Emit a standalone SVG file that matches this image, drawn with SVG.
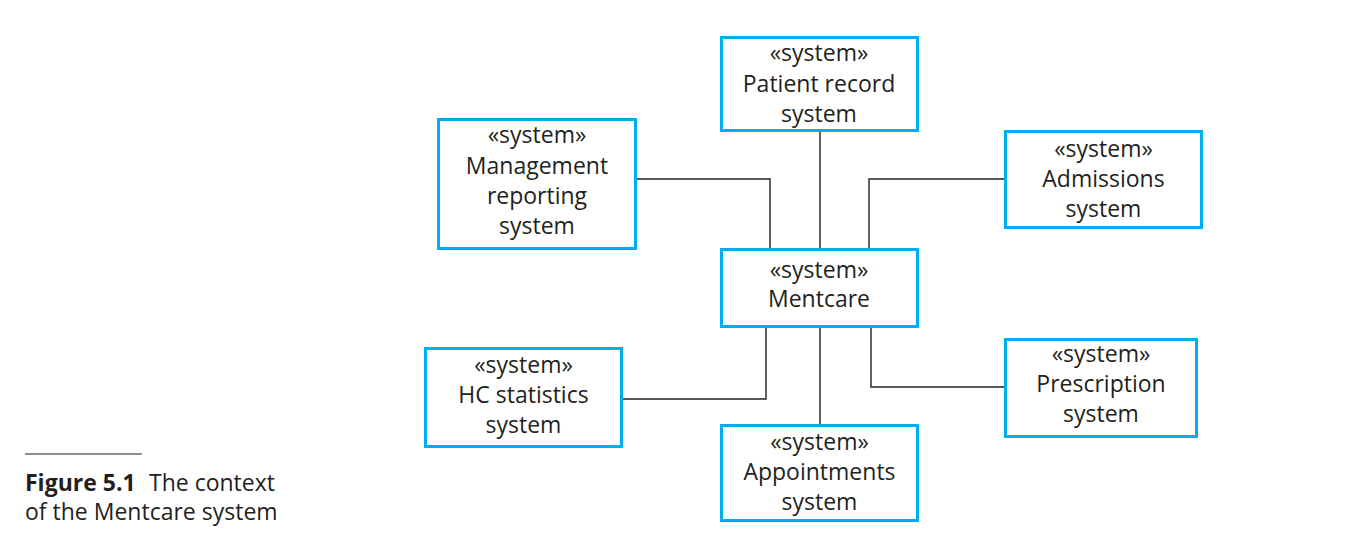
<svg xmlns="http://www.w3.org/2000/svg" width="1371" height="558" viewBox="0 0 1371 558">
<style>
.box{fill:#fff;stroke:#00aeef;stroke-width:3}
.lbl{font-family:"Open Sans","Liberation Sans",sans-serif;font-size:23px;fill:#231f20;text-anchor:middle}
.con{fill:none;stroke:#231f20;stroke-width:1.4}
.cap{font-family:"Open Sans","Liberation Sans",sans-serif;font-size:23px;fill:#231f20}
</style>
<rect width="1371" height="558" fill="#fff"/>
<g id="connectors">
<polyline class="con" points="636,179 770,179 770,249"/>
<line class="con" x1="820" y1="131" x2="820" y2="249"/>
<polyline class="con" points="1005,179 869,179 869,249"/>
<polyline class="con" points="622,399 766,399 766,327"/>
<line class="con" x1="820" y1="327" x2="820" y2="425"/>
<polyline class="con" points="1005,387 871,387 871,327"/>
</g>
<g id="patient">
<rect class="box" x="721.5" y="37.5" width="196" height="93"/>
<text class="lbl" x="819" y="61">«system»</text>
<text class="lbl" x="819" y="92">Patient record</text>
<text class="lbl" x="819" y="122">system</text>
</g>
<g id="management">
<rect class="box" x="438.5" y="119.5" width="197" height="129"/>
<text class="lbl" x="537" y="143">«system»</text>
<text class="lbl" x="537" y="174">Management</text>
<text class="lbl" x="537" y="204">reporting</text>
<text class="lbl" x="537" y="234">system</text>
</g>
<g id="admissions">
<rect class="box" x="1005.5" y="131.5" width="196" height="96"/>
<text class="lbl" x="1103.5" y="157">«system»</text>
<text class="lbl" x="1103.5" y="187">Admissions</text>
<text class="lbl" x="1103.5" y="217">system</text>
</g>
<g id="mentcare">
<rect class="box" x="721.5" y="249.5" width="196" height="77"/>
<text class="lbl" x="819" y="278">«system»</text>
<text class="lbl" x="819" y="307">Mentcare</text>
</g>
<g id="hcstats">
<rect class="box" x="425.5" y="348.5" width="196" height="98"/>
<text class="lbl" x="523.5" y="373">«system»</text>
<text class="lbl" x="523.5" y="403">HC statistics</text>
<text class="lbl" x="523.5" y="433">system</text>
</g>
<g id="prescription">
<rect class="box" x="1005.5" y="339.5" width="191" height="97"/>
<text class="lbl" x="1101" y="362">«system»</text>
<text class="lbl" x="1101" y="392">Prescription</text>
<text class="lbl" x="1101" y="422">system</text>
</g>
<g id="appointments">
<rect class="box" x="721.5" y="425.5" width="196" height="95"/>
<text class="lbl" x="819.5" y="450">«system»</text>
<text class="lbl" x="819.5" y="480">Appointments</text>
<text class="lbl" x="819.5" y="510">system</text>
</g>
<g id="caption">
<line x1="25" y1="454" x2="142" y2="454" stroke="#231f20" stroke-width="1.2"/>
<text class="cap" x="25" y="491"><tspan font-weight="bold">Figure 5.1</tspan><tspan x="149">The context</tspan></text>
<text class="cap" x="25" y="520">of the Mentcare system</text>
</g>
</svg>
